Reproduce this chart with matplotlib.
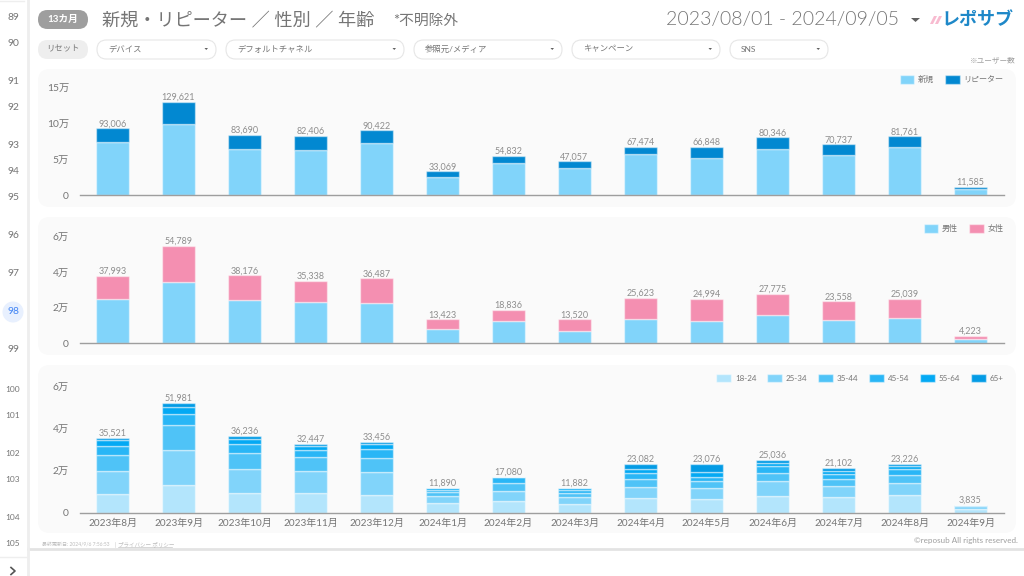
import matplotlib
matplotlib.use("Agg")
import matplotlib.pyplot as plt
from matplotlib.patches import FancyBboxPatch, Circle, Polygon

plt.rcParams['font.family'] = ['Lato', 'Noto Sans CJK JP', 'DejaVu Sans']
plt.rcParams['text.kerning_factor'] = 10

# Data ======================================================================
months = ["2023年8月", "2023年9月", "2023年10月", "2023年11月", "2023年12月", "2024年1月", "2024年2月",
          "2024年3月", "2024年4月", "2024年5月", "2024年6月", "2024年7月", "2024年8月", "2024年9月"]

total_users = [93006, 129621, 83690, 82406, 90422, 33069, 54832, 47057, 67474, 66848, 80346, 70737, 81761, 11585]
new_users = [74500, 98600, 63900, 63400, 72700, 25000, 44900, 38400, 57400, 52300, 64400, 56500, 67100, 8300]
repeat_users = [18506, 31021, 19790, 19006, 17722, 8069, 9932, 8657, 10074, 14548, 15946, 14237, 14661, 3285]

total_gender = [37993, 54789, 38176, 35338, 36487, 13423, 18836, 13520, 25623, 24994, 27775, 23558, 25039, 4223]
male = [25000, 34600, 24300, 23000, 22600, 7900, 12400, 7200, 13400, 12400, 16000, 13000, 14500, 2300]
female = [12993, 20189, 13876, 12338, 13887, 5523, 6436, 6320, 12223, 12594, 11775, 10558, 10539, 1923]

total_age = [35521, 51981, 36236, 32447, 33456, 11890, 17080, 11882, 23082, 23076, 25036, 21102, 23226, 3835]
age_18_24 = [8900, 13200, 9400, 9400, 8600, 4600, 5400, 4000, 6800, 6500, 7900, 7300, 8200, 1700]
age_25_34 = [10800, 16500, 11300, 10300, 10800, 3200, 5000, 3300, 5500, 5100, 7000, 5200, 5700, 1500]
age_35_44 = [7800, 11700, 7600, 6500, 6700, 2000, 3500, 2200, 3500, 3300, 4100, 3300, 3800, 400]
age_45_54 = [4300, 5400, 4400, 3600, 4300, 1000, 2900, 1400, 3000, 2200, 3200, 2500, 2900, 150]
age_55_64 = [2500, 3300, 2200, 1600, 2100, 700, 200, 650, 1700, 2200, 1300, 1400, 1600, 50]
age_65_up = [1221, 1881, 1336, 1047, 956, 390, 80, 332, 2582, 3776, 1536, 1402, 1026, 35]

side_rows = [("89", 18), ("90", 44), ("91", 82), ("92", 108), ("93", 146), ("94", 172), ("95", 197), ("96", 236),
             ("97", 274), ("98", 312), ("99", 350), ("100", 390), ("101", 415), ("102", 454), ("103", 479),
             ("104", 518), ("105", 543)]

filters = [("デバイス", 97, 216), ("デフォルトチャネル", 226, 404), ("参照元/メディア", 414, 562),
           ("キャンペーン", 572, 720), ("SNS", 730, 828)]

LIGHT_BLUE = "#81D4FA"
DARK_BLUE = "#0288D1"
PINK = "#F48FB1"
AGE_COLORS = ["#B3E5FC", "#81D4FA", "#4FC3F7", "#29B6F6", "#03A9F4", "#039BE5"]
TEXT = "#757575"
W, H = 1024, 576

fig = plt.figure(figsize=(W/100, H/100), dpi=100, facecolor="white")

# Page furniture, in pixel coordinates ======================================
bg = fig.add_axes([0, 0, 1, 1], zorder=0)
bg.set_xlim(0, W); bg.set_ylim(H, 0); bg.axis("off")

def pill(x0, y0, x1, y1, face, edge="none", r=9.5):
    bg.add_patch(FancyBboxPatch((x0+r, y0+r), x1-x0-2*r, y1-y0-2*r, boxstyle=f"round,pad={r},rounding_size={r}",
                                fc=face, ec=edge, lw=0.8))

for top, bottom in [(69, 207), (217, 355), (365, 533)]:
    pill(38, top, 1016, bottom, "#FAFAFA", r=12)

# sidebar
bg.plot([28, 28], [0, 548], color="#EEEEEE", lw=2)
bg.plot([0, 24], [1, 1], color="#EEEEEE", lw=1)
bg.plot([0, 28], [557, 557], color="#EEEEEE", lw=1)
bg.plot([28, 1024], [548.5, 548.5], color="#E3E3E3", lw=2)
bg.plot([28, 28], [548, 576], color="#EEEEEE", lw=2)
bg.add_patch(Circle((13, 312), 10.5, fc="#E8F0FE", ec="none"))
for label, y in side_rows:
    small = len(label) == 3
    bg.text(13, y, label, ha="center", va="center", fontsize=6 if small else 7.4,
            color="#4285F4" if label == "98" else TEXT)
bg.plot([11, 15, 11], [567.5, 571, 574.5], color="#555555", lw=1.2)

# header
pill(38, 10, 88, 29, "#9E9E9E")
bg.text(63, 19.5, "13カ月", ha="center", va="center", fontsize=7, color="white", fontweight="bold")
bg.text(102, 20, "新規・リピーター ／ 性別 ／ 年齢", ha="left", va="center", fontsize=13.1, color=TEXT)
bg.text(393, 21, "*不明除外", ha="left", va="center", fontsize=10.6, color=TEXT)
bg.text(666, 20, "2023/08/01 - 2024/09/05", ha="left", va="center", fontsize=14, color=TEXT, fontweight=300)
bg.add_patch(Polygon([[911, 18], [920, 18], [915.5, 22]], fc="#616161", ec="none"))
for dx in (0, 5):
    bg.add_patch(Polygon([[930+dx, 24], [933+dx, 24], [937+dx, 16], [934+dx, 16]], fc="#F8BBD0", ec="none"))
bg.text(941, 19, "レポサブ", ha="left", va="center", fontsize=13, color="#1E88C8", fontweight="bold")

pill(38, 40, 88, 59, "#EEEEEE")
bg.text(63, 49, "リセット", ha="center", va="center", fontsize=6, color=TEXT)
for label, x0, x1 in filters:
    pill(x0, 40, x1, 59, "white", edge="#E6E6E6")
    bg.text(x0+11, 49, label, ha="left", va="center", fontsize=6, color=TEXT)
    bg.add_patch(Polygon([[x1-11.5, 48], [x1-8, 48], [x1-9.75, 50]], fc="#616161", ec="none"))
bg.text(1016, 60, "※ユーザー数", ha="right", va="center", fontsize=5.5, color="#9E9E9E")

# footer
bg.text(42, 544, "最終更新日: 2024/9/6 7:56:53", ha="left", va="center", fontsize=3.6, color="#BDBDBD")
bg.plot([115, 115], [541.5, 546.5], color="#DDDDDD", lw=0.5)
bg.text(118, 544, "プライバシー ポリシー", ha="left", va="center", fontsize=4, color="#BDBDBD")
bg.plot([118, 172], [547, 547], color="#C8C8C8", lw=0.5)
bg.text(1018, 540, "©reposub All rights reserved.", ha="right", va="center", fontsize=5.8, color="#9E9E9E")

# Charts ====================================================================
def stacked_chart(y_top, y_base, ymax, ticks, tick_labels, series, totals, legend_y, show_x=False):
    left, right = 79.5, 1003.5
    ax = fig.add_axes([left/W, 1-y_base/H, (right-left)/W, (y_base-y_top)/H], zorder=1)
    ax.patch.set_alpha(0)
    x = list(range(len(months)))
    bottom = [0]*len(x)
    for label, values, color in series:
        bars = ax.bar(x, values, 0.5, bottom=bottom, color=color, label=label,
                      edgecolor=(1, 1, 1, 0.45), linewidth=1)
        bottom = [b + v for b, v in zip(bottom, values)]
    ax.bar_label(bars, labels=[f"{t:,}" for t in totals], padding=0, fontsize=6.5, color="#8E8E8E")
    ax.set_xlim(-0.5, 13.5)
    ax.set_ylim(0, ymax)
    ax.set_yticks(ticks, tick_labels, fontsize=7.4, color=TEXT)
    ax.tick_params(axis="both", length=0)
    ax.tick_params(axis="y", pad=7.5)
    if show_x:
        ax.set_xticks(x, months, fontsize=7.2, color=TEXT)
        ax.tick_params(axis="x", pad=4.5)
    else:
        ax.set_xticks([])
    for s in ["top", "left", "right"]:
        ax.spines[s].set_visible(False)
    ax.spines["bottom"].set_color("#9E9E9E")
    ax.spines["bottom"].set_linewidth(1)
    ax.legend(loc="center right", bbox_to_anchor=(1.0, (y_base-legend_y)/(y_base-y_top)), ncol=len(series), frameon=False,
              fontsize=5.8, labelcolor=TEXT, handlelength=1.85, handleheight=1.2, handletextpad=0.45,
              columnspacing=1.35, borderpad=0, borderaxespad=0)
    return ax

stacked_chart(87.3, 195.3, 150000, [0, 50000, 100000, 150000], ["0", "5万", "10万", "15万"],
              [("新規", new_users, LIGHT_BLUE), ("リピーター", repeat_users, DARK_BLUE)], total_users, 79.5)
stacked_chart(236.7, 343.3, 60000, [0, 20000, 40000, 60000], ["0", "2万", "4万", "6万"],
              [("男性", male, LIGHT_BLUE), ("女性", female, PINK)], total_gender, 228.5)
stacked_chart(386, 512.7, 60000, [0, 20000, 40000, 60000], ["0", "2万", "4万", "6万"],
              [("18-24", age_18_24, AGE_COLORS[0]), ("25-34", age_25_34, AGE_COLORS[1]),
               ("35-44", age_35_44, AGE_COLORS[2]), ("45-54", age_45_54, AGE_COLORS[3]),
               ("55-64", age_55_64, AGE_COLORS[4]), ("65+", age_65_up, AGE_COLORS[5])], total_age, 378, show_x=True)

fig.savefig("out.png", dpi=100)
